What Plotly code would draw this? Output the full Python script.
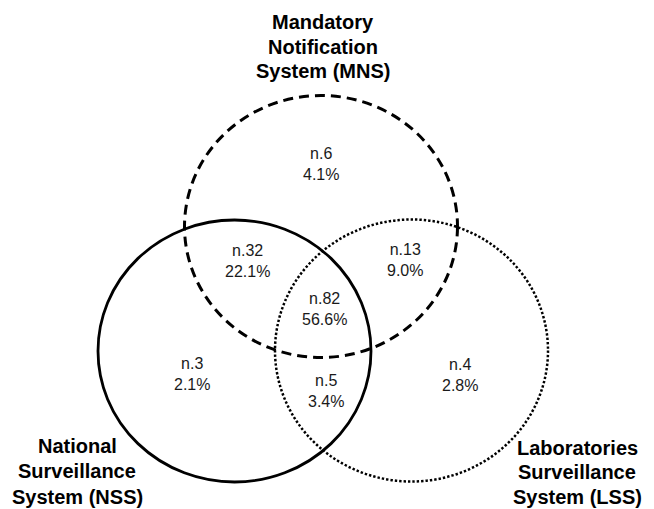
import plotly.graph_objects as go

# ---- data ----
regions = ["MNS only", "MNS & NSS", "MNS & LSS", "MNS & NSS & LSS", "NSS only", "NSS & LSS", "LSS only"]
counts = [6, 32, 13, 82, 3, 5, 4]
percents = [4.1, 22.1, 9.0, 56.6, 2.1, 3.4, 2.8]
set_titles = [
    ["Mandatory", "Notification", "System (MNS)"],
    ["National", "Surveillance", "System (NSS)"],
    ["Laboratories", "Surveillance", "System (LSS)"],
]

# ---- layout (pixel-like coordinates) ----
W, H = 654, 509
label_pos = [(321, 164), (247, 261), (405, 260), (324, 309), (192, 374), (326, 391), (460, 374.5)]
circle_centers = [(321, 226.5), (234.5, 351), (411.5, 350.5)]
rx, ry = 136.5, 131
circle_styles = [
    dict(color="black", width=3, dash="10px,6px"),
    dict(color="black", width=2.8, dash="solid"),
    dict(color="black", width=2.5, dash="2.4px,2px"),
]
title_pos = [(323, [22, 47, 71]), (77, [446, 471, 497]), (577, [448, 472, 497])]

fig = go.Figure()

# invisible trace to set up axes
fig.add_trace(go.Scatter(x=[0, W], y=[0, H], mode="markers", marker=dict(opacity=0), hoverinfo="skip", showlegend=False))

for (cx, cy), st in zip(circle_centers, circle_styles):
    fig.add_shape(type="circle", xref="x", yref="y",
                  x0=cx - rx, x1=cx + rx, y0=cy - ry, y1=cy + ry,
                  line=st, fillcolor="rgba(0,0,0,0)")

for (x, y), c, p in zip(label_pos, counts, percents):
    fig.add_annotation(x=x, y=y, xref="x", yref="y", showarrow=False,
                       text=f"n.{c}<br>{p:.1f}%",
                       font=dict(family="Liberation Sans, Arial", size=16, color="#1a1a1a"),
                       align="center", xanchor="center", yanchor="middle")

for (x, ys), lines in zip(title_pos, set_titles):
    for y, line in zip(ys, lines):
        fig.add_annotation(x=x, y=y, xref="x", yref="y", showarrow=False,
                           text=f"<b>{line}</b>",
                           font=dict(family="Liberation Sans, Arial", size=20, color="black"),
                           xanchor="center", yanchor="middle")

fig.update_layout(
    width=W, height=H, autosize=False,
    margin=dict(l=0, r=0, t=0, b=0),
    paper_bgcolor="white", plot_bgcolor="white",
    xaxis=dict(range=[0, W], visible=False, fixedrange=True),
    yaxis=dict(range=[H, 0], visible=False, fixedrange=True),
    showlegend=False,
)

fig.write_html("out.html", config={"displayModeBar": False},
               post_script="document.body.style.margin='0';document.body.style.overflow='hidden';")
